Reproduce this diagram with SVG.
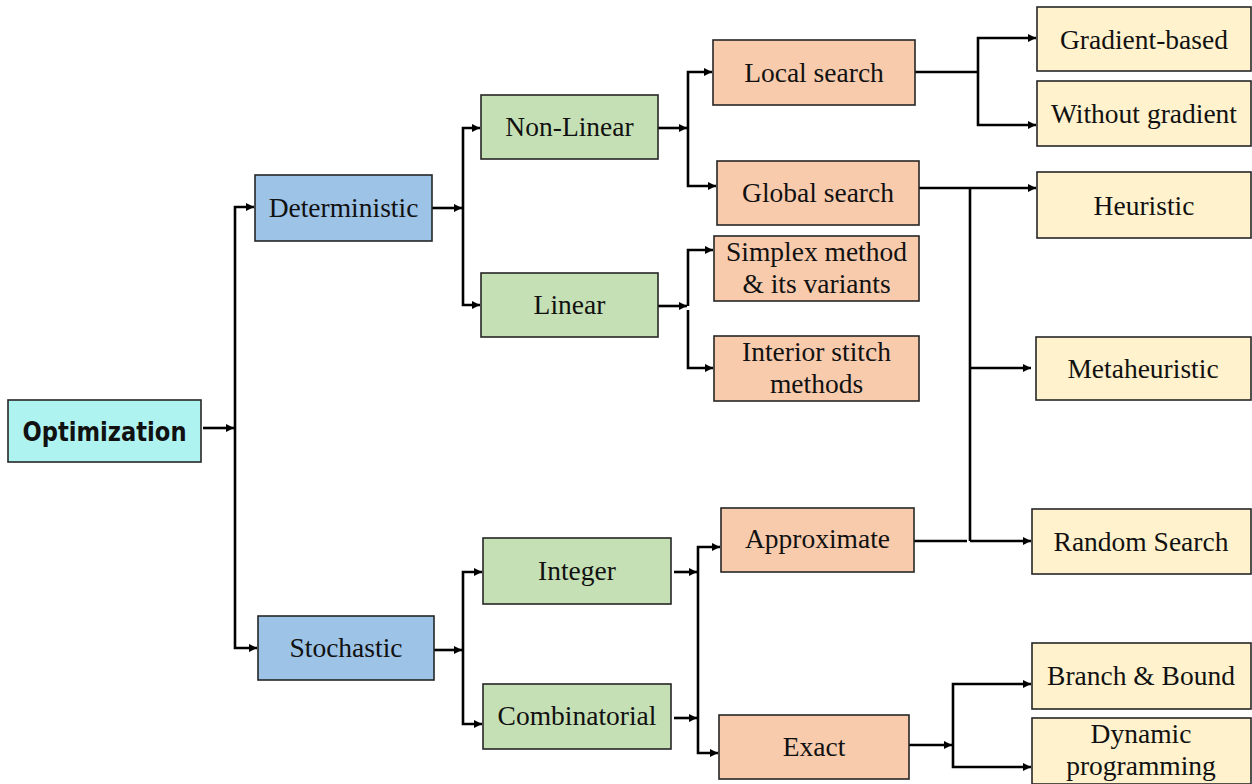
<svg xmlns="http://www.w3.org/2000/svg" width="1252" height="784" viewBox="0 0 1252 784">
<style>
.box{stroke:#262626;stroke-width:1.6}
.root{fill:#AFF3F0}
.l1{fill:#9DC3E6}
.l2{fill:#C5E0B4}
.l3{fill:#F8CBAD}
.l4{fill:#FFF2CC}
.t{font-family:"Liberation Serif","Times New Roman",serif;font-size:27.5px;fill:#111;text-anchor:middle}
.tb{font-family:"DejaVu Sans",Verdana,sans-serif;font-weight:bold;font-size:26px;fill:#111;text-anchor:middle}
.c{fill:none;stroke:#000;stroke-width:2.6}
.a{marker-end:url(#ah)}
</style>
<defs>
<marker id="ah" markerUnits="userSpaceOnUse" markerWidth="9" markerHeight="8" refX="8" refY="4" orient="auto">
<path d="M0,0 L8,4 L0,8 z" fill="#000"/>
</marker>
</defs>
<rect width="1252" height="784" fill="#fff"/>
<g id="connectors">
<path class="c a" d="M203,428 H234"/>
<path class="c a" d="M235,428 V207 H254"/>
<path class="c a" d="M235,428 V648 H257"/>
<path class="c a" d="M432,208 H462"/>
<path class="c a" d="M463,208 V128 H480"/>
<path class="c a" d="M463,208 V305 H480"/>
<path class="c a" d="M434,650 H462"/>
<path class="c a" d="M463,650 V572 H482"/>
<path class="c a" d="M463,650 V724 H482"/>
<path class="c a" d="M658,128 H687"/>
<path class="c a" d="M688,128 V72 H712"/>
<path class="c a" d="M688,128 V186 H716"/>
<path class="c a" d="M658,306 H687"/>
<path class="c a" d="M688,306 V250 H713"/>
<path class="c a" d="M688,310 V368 H713"/>
<path class="c a" d="M674,572 H697"/>
<path class="c a" d="M674,718 H697"/>
<path class="c a" d="M698,572 V547 H720"/>
<path class="c a" d="M698,572 V753 H718"/>
<path class="c" d="M915,72 H978"/>
<path class="c a" d="M978,72 V38 H1036"/>
<path class="c a" d="M978,72 V125 H1036"/>
<path class="c a" d="M919,188 H1036"/>
<path class="c" d="M970,188 V541"/>
<path class="c a" d="M970,368 H1031"/>
<path class="c" d="M914,541 H967"/>
<path class="c a" d="M970,541 H1031"/>
<path class="c a" d="M909,745 H952"/>
<path class="c a" d="M953,745 V684 H1031"/>
<path class="c a" d="M953,745 V767 H1031"/>
</g>
<g id="optimization"><rect class="box root" x="8" y="400" width="193" height="62"/><text class="tb" x="104.5" y="441" textLength="164" lengthAdjust="spacingAndGlyphs">Optimization</text></g>
<g id="deterministic"><rect class="box l1" x="255" y="175" width="177" height="66"/><text class="t" x="343.5" y="217">Deterministic</text></g>
<g id="stochastic"><rect class="box l1" x="258" y="616" width="176" height="64"/><text class="t" x="346" y="657">Stochastic</text></g>
<g id="nonlinear"><rect class="box l2" x="481" y="95" width="177" height="64"/><text class="t" x="569.5" y="136">Non-Linear</text></g>
<g id="linear"><rect class="box l2" x="481" y="273" width="177" height="64"/><text class="t" x="569.5" y="314">Linear</text></g>
<g id="integer"><rect class="box l2" x="483" y="538" width="188" height="66"/><text class="t" x="577" y="580">Integer</text></g>
<g id="combinatorial"><rect class="box l2" x="483" y="684" width="188" height="65"/><text class="t" x="577" y="725">Combinatorial</text></g>
<g id="local"><rect class="box l3" x="713" y="40" width="202" height="65"/><text class="t" x="814" y="82">Local search</text></g>
<g id="global"><rect class="box l3" x="717" y="161" width="202" height="64"/><text class="t" x="818" y="202">Global search</text></g>
<g id="simplex"><rect class="box l3" x="714" y="236" width="205" height="65"/><text class="t" x="816.5" y="261">Simplex method</text><text class="t" x="816.5" y="293">&amp; its variants</text></g>
<g id="interior"><rect class="box l3" x="714" y="336" width="205" height="65"/><text class="t" x="816.5" y="361">Interior stitch</text><text class="t" x="816.5" y="393">methods</text></g>
<g id="approximate"><rect class="box l3" x="721" y="508" width="193" height="64"/><text class="t" x="817.5" y="548">Approximate</text></g>
<g id="exact"><rect class="box l3" x="719" y="715" width="190" height="64"/><text class="t" x="814" y="756">Exact</text></g>
<g id="gradient"><rect class="box l4" x="1037" y="7" width="214" height="64"/><text class="t" x="1144" y="49">Gradient-based</text></g>
<g id="without"><rect class="box l4" x="1037" y="81" width="214" height="65"/><text class="t" x="1144" y="123">Without gradient</text></g>
<g id="heuristic"><rect class="box l4" x="1037" y="172" width="214" height="66"/><text class="t" x="1144" y="215">Heuristic</text></g>
<g id="metaheuristic"><rect class="box l4" x="1036" y="337" width="215" height="63"/><text class="t" x="1143" y="378">Metaheuristic</text></g>
<g id="random"><rect class="box l4" x="1032" y="509" width="219" height="65"/><text class="t" x="1141" y="551">Random Search</text></g>
<g id="branch"><rect class="box l4" x="1032" y="643" width="219" height="66"/><text class="t" x="1141" y="685">Branch &amp; Bound</text></g>
<g id="dynamic"><rect class="box l4" x="1032" y="718" width="219" height="66"/><text class="t" x="1141" y="743">Dynamic</text><text class="t" x="1141" y="775">programming</text></g>
</svg>
